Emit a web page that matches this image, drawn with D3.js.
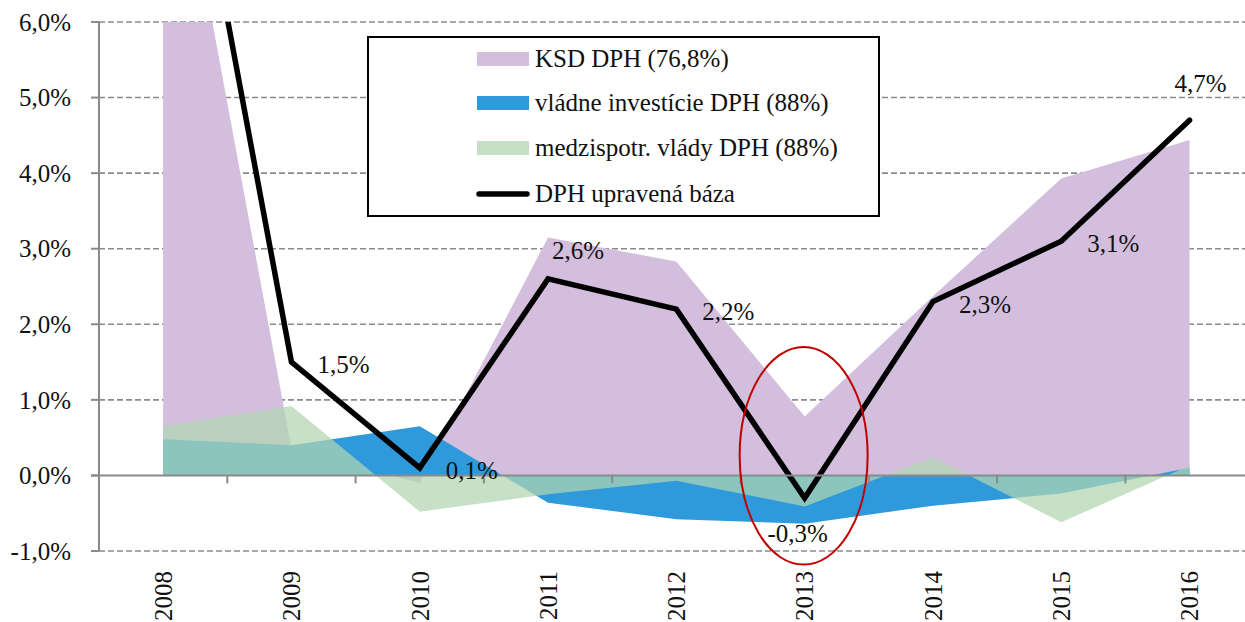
<!DOCTYPE html>
<html>
<head>
<meta charset="utf-8">
<script src="https://cdn.jsdelivr.net/npm/d3@7"></script>
<style>
  body { margin: 0; background: #fff; }
  text { font-family: "Liberation Serif", "DejaVu Serif", serif; fill: #111; }
</style>
</head>
<body>
<div id="chart"></div>
<script>
//
// DPH chart: areas + line
//

// Data (values in %)
var years  = ["2008", "2009", "2010", "2011", "2012", "2013", "2014", "2015", "2016"];
var ksd    = [9.5, 0.36, -0.1, 3.15, 2.83, 0.78, 2.37, 3.93, 4.44];
var invest = [0.48, 0.40, 0.65, -0.36, -0.58, -0.64, -0.40, -0.24, 0.10];
var medz   = [0.65, 0.92, -0.48, -0.25, -0.07, -0.41, 0.24, -0.62, 0.13];
var base   = [10.6, 1.5, 0.1, 2.6, 2.2, -0.3, 2.3, 3.1, 4.7];
var yTicks = [-1, 0, 1, 2, 3, 4, 5, 6];
var seriesNames = ["KSD DPH (76,8%)", "vládne investície DPH (88%)", "medzispotr. vlády DPH (88%)", "DPH upravená báza"];

// where each data label sits relative to its point
var labelPos = [null, "right", "right", "above", "right", "below", "right", "right", "top"];

var W = 1245, H = 622;
var plotLeft = 99, plotTop = 22, plotBottom = 551;

var svg = d3.select("#chart")
    .append("svg")
    .attr("width", W)
    .attr("height", H);

// Scales
var x = d3.scaleBand()
    .domain(years)
    .range([plotLeft, plotLeft + 9 * 128.3])
    .paddingInner(0).paddingOuter(0);

var y = d3.scaleLinear()
    .domain([-1, 6])
    .range([plotBottom, plotTop]);

function cx(i) { return x(years[i]) + x.bandwidth() / 2; }

// Slovak style: decimal comma, plain hyphen for minus
var sk = d3.formatLocale({decimal: ",", thousands: " ", grouping: [3], currency: ["", " €"], minus: "-"});
var fmt = function(v) { return sk.format(".1f")(v) + "%"; };

// Gridlines (dashed), except zero
svg.append("g")
    .selectAll("line")
    .data(yTicks.filter(function(d) { return d !== 0; }))
    .enter()
    .append("line")
    .attr("x1", plotLeft).attr("x2", W)
    .attr("y1", function(d) { return y(d); })
    .attr("y2", function(d) { return y(d); })
    .style("stroke", "#8a8a8a")
    .style("stroke-width", 1.6)
    .style("stroke-dasharray", "6,3");

// Clip to plot area
svg.append("clipPath").attr("id", "plot")
    .append("rect")
    .attr("x", plotLeft).attr("y", plotTop)
    .attr("width", W - plotLeft).attr("height", plotBottom - plotTop);

var plot = svg.append("g").attr("clip-path", "url(#plot)");

var area = function(vals) {
    return d3.area()
        .x(function(d, i) { return cx(i); })
        .y0(y(0))
        .y1(function(d) { return y(d); })(vals);
};

plot.append("path").attr("d", area(ksd)).style("fill", "#d3bedd");
plot.append("path").attr("d", area(invest)).style("fill", "#2e9adb");
plot.append("path").attr("d", area(medz)).style("fill", "rgb(177,214,178)").style("opacity", 0.72);

// Y axis line and ticks
svg.append("line")
    .attr("x1", plotLeft).attr("x2", plotLeft)
    .attr("y1", y(6)).attr("y2", y(-1))
    .style("stroke", "#8a8a8a").style("stroke-width", 2);

svg.append("g")
    .selectAll("line")
    .data(yTicks)
    .enter()
    .append("line")
    .attr("x1", plotLeft - 8).attr("x2", plotLeft)
    .attr("y1", function(d) { return y(d); })
    .attr("y2", function(d) { return y(d); })
    .style("stroke", "#8a8a8a").style("stroke-width", 2);

svg.append("g")
    .selectAll("text")
    .data(yTicks)
    .enter()
    .append("text")
    .attr("x", 71)
    .attr("y", function(d) { return y(d); })
    .attr("dy", "0.35em")
    .attr("text-anchor", "end")
    .style("font-size", "25px")
    .text(fmt);

// X axis at zero, ticks between categories
svg.append("line")
    .attr("x1", plotLeft - 8).attr("x2", W)
    .attr("y1", y(0)).attr("y2", y(0))
    .style("stroke", "#8a8a8a").style("stroke-width", 2);

svg.append("g")
    .selectAll("line")
    .data(years.slice(1))
    .enter()
    .append("line")
    .attr("x1", function(d) { return x(d); })
    .attr("x2", function(d) { return x(d); })
    .attr("y1", y(0)).attr("y2", y(0) + 8)
    .style("stroke", "#8a8a8a").style("stroke-width", 2);

svg.append("g")
    .selectAll("text")
    .data(years)
    .enter()
    .append("text")
    .attr("transform", function(d, i) { return "translate(" + cx(i) + ",571) rotate(-90)"; })
    .attr("dy", "0.35em")
    .attr("text-anchor", "end")
    .style("font-size", "25px")
    .text(function(d) { return d; });

// Black line
plot.append("path")
    .datum(base)
    .attr("d", d3.line()
        .x(function(d, i) { return cx(i); })
        .y(function(d) { return y(d); }))
    .style("fill", "none")
    .style("stroke", "#000")
    .style("stroke-width", 5.5)
    .style("stroke-linejoin", "miter")
    .style("stroke-linecap", "round");

// Data labels
var offs = {
    right: [52, 11],
    above: [30, -20],
    below: [-7, 44],
    top:   [11, -28]
};
var labelIdx = d3.range(base.length).filter(function(i) { return labelPos[i] !== null; });
svg.append("g")
    .selectAll("text")
    .data(labelIdx)
    .enter()
    .append("text")
    .attr("x", function(i) { return cx(i) + offs[labelPos[i]][0]; })
    .attr("y", function(i) { return y(base[i]) + offs[labelPos[i]][1]; })
    .attr("text-anchor", "middle")
    .style("font-size", "25px")
    .text(function(i) { return fmt(base[i]); });

// Red ellipse around 2013
svg.append("ellipse")
    .attr("cx", cx(5) - 1)
    .attr("cy", y(0.26))
    .attr("rx", 64)
    .attr("ry", y(0) - y(1.44))
    .style("fill", "none")
    .style("stroke", "#c00000")
    .style("stroke-width", 2);

// Legend
var lg = svg.append("g");
lg.append("rect")
    .attr("x", 368).attr("y", 37)
    .attr("width", 511).attr("height", 179)
    .style("fill", "#fff")
    .style("stroke", "#000")
    .style("stroke-width", 2);

var swatch = ["#d3bedd", "#2e9adb", "#c5e0c6"];
var rowY = [59, 103, 148, 194];
swatch.forEach(function(c, i) {
    lg.append("rect")
        .attr("x", 477).attr("y", rowY[i] - 7)
        .attr("width", 52).attr("height", 14)
        .style("fill", c);
});
lg.append("line")
    .attr("x1", 479).attr("x2", 527)
    .attr("y1", rowY[3]).attr("y2", rowY[3])
    .style("stroke", "#000").style("stroke-width", 5.5)
    .style("stroke-linecap", "round");
seriesNames.forEach(function(s, i) {
    lg.append("text")
        .attr("x", 535)
        .attr("y", rowY[i] + 8)
        .style("font-size", "25px")
        .text(s);
});
</script>
</body>
</html>
